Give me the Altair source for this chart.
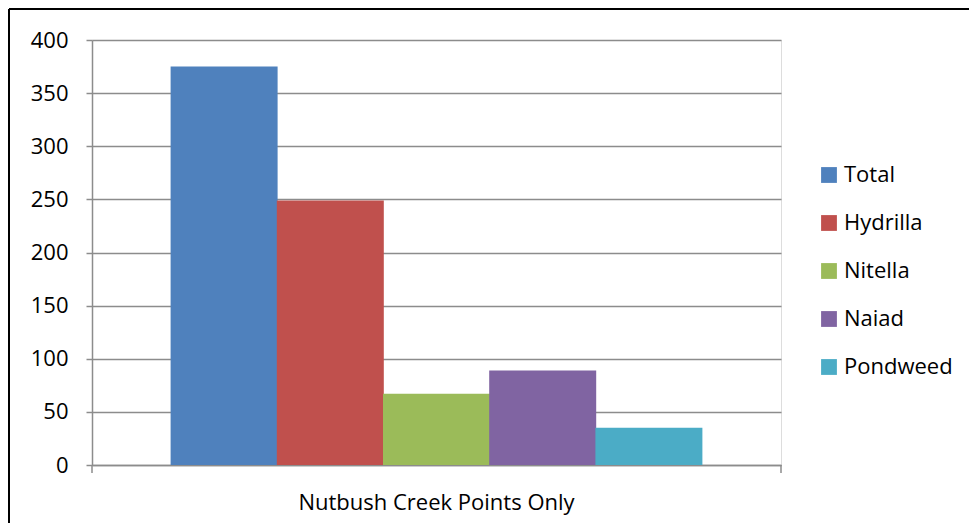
import altair as alt
import pandas as pd

category = ["Nutbush Creek Points Only"]
series = ["Total", "Hydrilla", "Nitella", "Naiad", "Pondweed"]
values = [375, 249, 67, 89, 35]
colors = ["#4F81BD", "#C0504D", "#9BBB59", "#8064A2", "#4BACC6"]
y_ticks = [0, 50, 100, 150, 200, 250, 300, 350, 400]

df = pd.DataFrame({"cat": category * len(series), "series": series, "value": values})

FONT = "Open Sans"
GRAY = "#8c8c8c"
FS = 22

bars = alt.Chart(df).mark_bar(size=107).encode(
    x=alt.X("cat:N", title=None,
            scale=alt.Scale(paddingInner=0, paddingOuter=0.1488),
            axis=alt.Axis(labelAngle=0, labelFontSize=FS, labelFont=FONT, labelColor="#000",
                          labelPadding=27, labelLimit=0, ticks=False, domain=True,
                          domainColor=GRAY, domainWidth=1.5)),
    xOffset=alt.XOffset("series:N", sort=series, scale=alt.Scale(paddingInner=0, paddingOuter=0)),
    y=alt.Y("value:Q", title=None,
            scale=alt.Scale(domain=[0, 400], nice=False),
            axis=alt.Axis(values=y_ticks, labelFontSize=FS, labelFont=FONT, labelColor="#000",
                          labelPadding=18, tickSize=6, tickColor=GRAY, tickWidth=1.5,
                          domainColor=GRAY, domainWidth=1.5,
                          gridColor=GRAY, gridWidth=1.5)),
    color=alt.Color("series:N", sort=series, scale=alt.Scale(domain=series, range=colors),
                    legend=alt.Legend(title=None, orient="none", legendX=726, legendY=124,
                                      symbolType="square", symbolSize=250, symbolStrokeWidth=0,
                                      labelFontSize=FS, labelFont=FONT, labelColor="#000",
                                      rowPadding=26, labelOffset=4)),
)

end_ticks = alt.Chart(pd.DataFrame({"e": [0, 689]})).mark_rule(color=GRAY, strokeWidth=1.5).encode(
    x=alt.X("e:Q", scale=alt.Scale(domain=[0, 689], range=[0, 689]), axis=None),
    y=alt.value(425), y2=alt.value(433),
)

def frame_rule(**kw):
    return alt.Chart(pd.DataFrame({"k": [0]})).mark_rule(color="#000", strokeWidth=2).encode(**kw)

frame = [
    frame_rule(x=alt.value(-83), x2=alt.value(880), y=alt.value(-31)),
    frame_rule(x=alt.value(-83), y=alt.value(-31), y2=alt.value(490)),
]

chart = alt.layer(bars, end_ticks, *frame).resolve_scale(
    x="independent"
).properties(
    width=689, height=425,
    autosize=alt.AutoSizeParams(type="none"),
    padding={"left": 84, "top": 32, "right": 188, "bottom": 58},
).configure_view(stroke=None).configure(background="white")

chart.save("out.html", embed_options={"renderer": "svg", "actions": False})
